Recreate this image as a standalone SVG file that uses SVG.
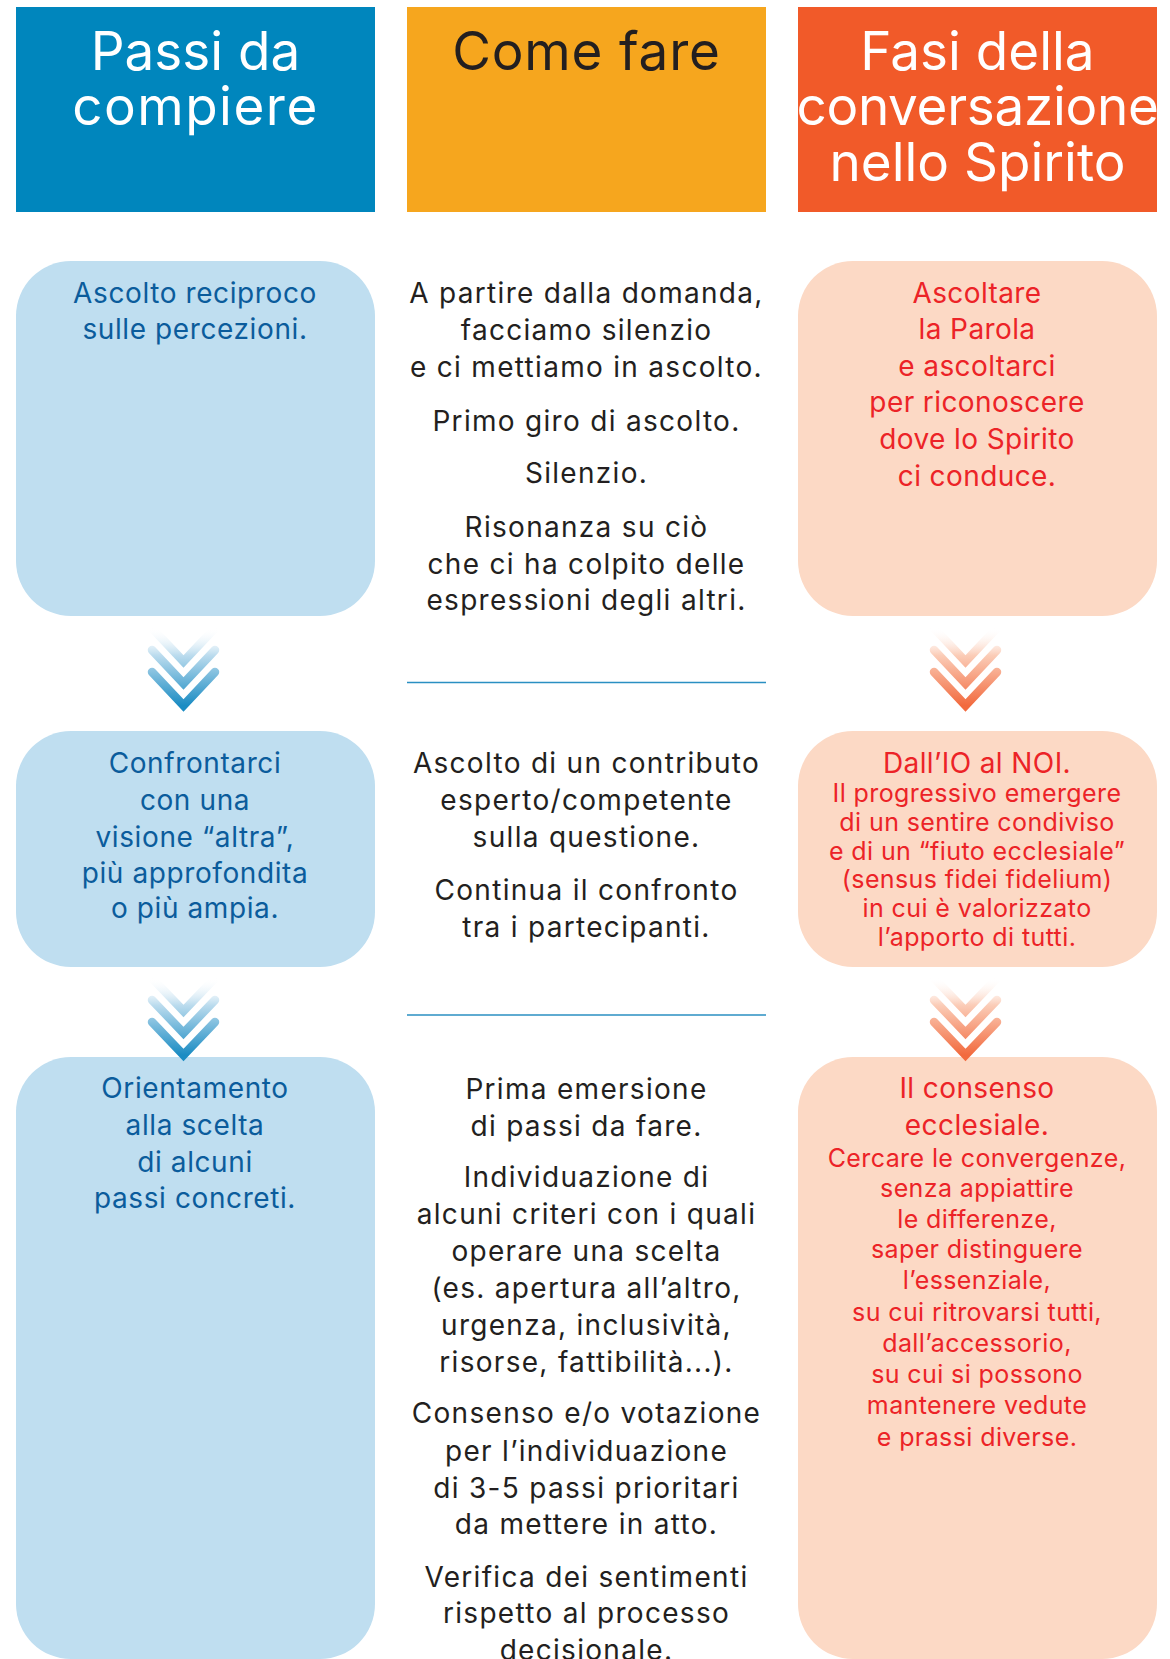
<svg xmlns="http://www.w3.org/2000/svg" width="1170" height="1659" viewBox="0 0 1170 1659">
<style>
.hdr{font-family:Inter,"Liberation Sans",sans-serif;font-size:53px;text-anchor:middle}
.t{font-family:Inter,"Liberation Sans",sans-serif;font-size:28px;text-anchor:middle}
.c{fill:#231f20;letter-spacing:1.3px}
.b{fill:#0b5c9c;letter-spacing:0.6px}
.r{fill:#ec2327;letter-spacing:0.4px}
.s{font-size:25px}
.bbox{fill:#bfdef0}
.rbox{fill:#fcd9c5}
.sep{stroke:#2a8fc2;stroke-width:1.6;fill:none}
.chev{fill:none;stroke-width:8.5;stroke-linecap:round;stroke-linejoin:miter;stroke-miterlimit:10}
</style>
<defs>
<linearGradient id="gb" x1="0" y1="0" x2="0" y2="1">
<stop offset="0" stop-color="#ffffff" stop-opacity="0"/>
<stop offset="0.35" stop-color="#bcdcee"/>
<stop offset="1" stop-color="#1b8cc3"/>
</linearGradient>
<linearGradient id="gr" x1="0" y1="0" x2="0" y2="1">
<stop offset="0" stop-color="#ffffff" stop-opacity="0"/>
<stop offset="0.35" stop-color="#fbcdb8"/>
<stop offset="1" stop-color="#f26a3e"/>
</linearGradient>
</defs>
<rect width="1170" height="1659" fill="#ffffff"/>

<g id="header-passi">
<rect x="16" y="7" width="359" height="205" fill="#0086bd"/>
<text class="hdr" fill="#ffffff"><tspan x="195.5" y="70">Passi da</tspan><tspan x="195.5" y="125" letter-spacing="1.5">compiere</tspan></text>
</g>
<g id="header-come">
<rect x="407" y="7" width="359" height="205" fill="#f6a61e"/>
<text class="hdr" fill="#231f20"><tspan x="586.5" y="70" letter-spacing="0.8">Come fare</tspan></text>
</g>
<g id="header-fasi">
<rect x="798" y="7" width="359" height="205" fill="#f15a29"/>
<text class="hdr" fill="#ffffff"><tspan x="977.5" y="70">Fasi della</tspan><tspan x="977.5" y="125" letter-spacing="-0.3">conversazione</tspan><tspan x="977.5" y="181">nello Spirito</tspan></text>
</g>

<g id="passo-1">
<rect class="bbox" x="16" y="261" width="359" height="355" rx="55"/>
<text class="t b"><tspan x="195" y="303">Ascolto reciproco</tspan><tspan x="195" y="339">sulle percezioni.</tspan></text>
</g>
<g id="come-1">
<text class="t c"><tspan x="586.5" y="303">A partire dalla domanda,</tspan><tspan x="586.5" y="340">facciamo silenzio</tspan><tspan x="586.5" y="377">e ci mettiamo in ascolto.</tspan><tspan x="586.5" y="431">Primo giro di ascolto.</tspan><tspan x="586.5" y="483">Silenzio.</tspan><tspan x="586.5" y="537">Risonanza su ciò</tspan><tspan x="586.5" y="574">che ci ha colpito delle</tspan><tspan x="586.5" y="610">espressioni degli altri.</tspan></text>
</g>
<g id="fase-1">
<rect class="rbox" x="798" y="261" width="359" height="355" rx="55"/>
<text class="t r"><tspan x="977" y="303">Ascoltare</tspan><tspan x="977" y="339">la Parola</tspan><tspan x="977" y="376">e ascoltarci</tspan><tspan x="977" y="412">per riconoscere</tspan><tspan x="977" y="449">dove lo Spirito</tspan><tspan x="977" y="486">ci conduce.</tspan></text>
</g>

<g id="passo-2">
<rect class="bbox" x="16" y="731" width="359" height="236" rx="55"/>
<text class="t b"><tspan x="195" y="773">Confrontarci</tspan><tspan x="195" y="810">con una</tspan><tspan x="195" y="847">visione “altra”,</tspan><tspan x="195" y="883">più approfondita</tspan><tspan x="195" y="918">o più ampia.</tspan></text>
</g>
<g id="come-2">
<text class="t c"><tspan x="586.5" y="773">Ascolto di un contributo</tspan><tspan x="586.5" y="810">esperto/competente</tspan><tspan x="586.5" y="847">sulla questione.</tspan><tspan x="586.5" y="900">Continua il confronto</tspan><tspan x="586.5" y="937">tra i partecipanti.</tspan></text>
</g>
<g id="fase-2">
<rect class="rbox" x="798" y="731" width="359" height="236" rx="55"/>
<text class="t r"><tspan x="977" y="773">Dall’IO al NOI.</tspan><tspan class="s" x="977" y="802">Il progressivo emergere</tspan><tspan class="s" x="977" y="831">di un sentire condiviso</tspan><tspan class="s" x="977" y="860">e di un “fiuto ecclesiale”</tspan><tspan class="s" x="977" y="888">(sensus fidei fidelium)</tspan><tspan class="s" x="977" y="917">in cui è valorizzato</tspan><tspan class="s" x="977" y="946">l’apporto di tutti.</tspan></text>
</g>

<g id="passo-3">
<rect class="bbox" x="16" y="1057" width="359" height="602" rx="55"/>
<text class="t b"><tspan x="195" y="1098">Orientamento</tspan><tspan x="195" y="1135">alla scelta</tspan><tspan x="195" y="1172">di alcuni</tspan><tspan x="195" y="1208">passi concreti.</tspan></text>
</g>
<g id="come-3">
<text class="t c"><tspan x="586.5" y="1099">Prima emersione</tspan><tspan x="586.5" y="1136">di passi da fare.</tspan><tspan x="586.5" y="1187">Individuazione di</tspan><tspan x="586.5" y="1224">alcuni criteri con i quali</tspan><tspan x="586.5" y="1261">operare una scelta</tspan><tspan x="586.5" y="1298">(es. apertura all’altro,</tspan><tspan x="586.5" y="1335">urgenza, inclusività,</tspan><tspan x="586.5" y="1372">risorse, fattibilità...).</tspan><tspan x="586.5" y="1423">Consenso e/o votazione</tspan><tspan x="586.5" y="1461">per l’individuazione</tspan><tspan x="586.5" y="1498">di 3-5 passi prioritari</tspan><tspan x="586.5" y="1534">da mettere in atto.</tspan><tspan x="586.5" y="1587">Verifica dei sentimenti</tspan><tspan x="586.5" y="1623">rispetto al processo</tspan><tspan x="586.5" y="1660">decisionale.</tspan></text>
</g>
<g id="fase-3">
<rect class="rbox" x="798" y="1057" width="359" height="602" rx="55"/>
<text class="t r"><tspan x="977" y="1098">Il consenso</tspan><tspan x="977" y="1135">ecclesiale.</tspan><tspan class="s" x="977" y="1167">Cercare le convergenze,</tspan><tspan class="s" x="977" y="1197">senza appiattire</tspan><tspan class="s" x="977" y="1228">le differenze,</tspan><tspan class="s" x="977" y="1258">saper distinguere</tspan><tspan class="s" x="977" y="1289">l’essenziale,</tspan><tspan class="s" x="977" y="1321">su cui ritrovarsi tutti,</tspan><tspan class="s" x="977" y="1352">dall’accessorio,</tspan><tspan class="s" x="977" y="1383">su cui si possono</tspan><tspan class="s" x="977" y="1414">mantenere vedute</tspan><tspan class="s" x="977" y="1446">e prassi diverse.</tspan></text>
</g>

<g id="connectors">
<path class="chev" stroke="url(#gb)" d="M152,628 L183.5,661.5 L215,628 M152,650 L183.5,683.5 L215,650 M152,672 L183.5,705.5 L215,672"/>
<path class="chev" stroke="url(#gr)" d="M934,628 L965.5,661.5 L997,628 M934,650 L965.5,683.5 L997,650 M934,672 L965.5,705.5 L997,672"/>
<path class="chev" stroke="url(#gb)" d="M152,978 L183.5,1011 L215,978 M152,1000 L183.5,1033 L215,1000 M152,1022 L183.5,1055 L215,1022"/>
<path class="chev" stroke="url(#gr)" d="M934,978 L965.5,1011 L997,978 M934,1000 L965.5,1033 L997,1000 M934,1022 L965.5,1055 L997,1022"/>
<line class="sep" x1="407" y1="682.5" x2="766" y2="682.5"/>
<line class="sep" x1="407" y1="1015" x2="766" y2="1015"/>
</g>
</svg>
